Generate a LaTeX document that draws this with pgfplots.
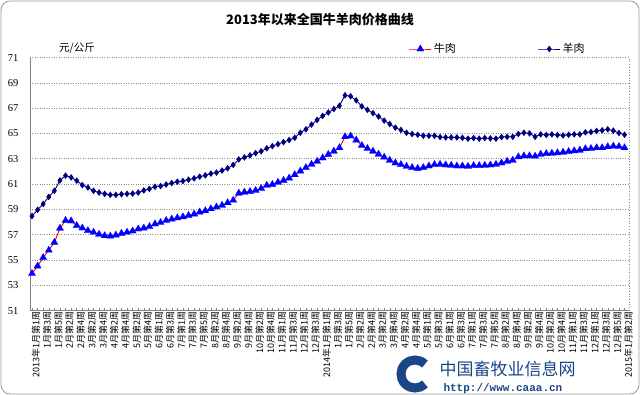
\documentclass[border=0pt]{standalone}
\usepackage{pgfplots}
\pgfplotsset{compat=1.18}
\usepackage{pgfplotstable}
\usepackage{fontspec}
\setmainfont{Liberation Serif}
\newfontfamily\cjk{Noto Sans CJK SC}
\newfontfamily\mono{Liberation Mono}
\definecolor{beefline}{RGB}{255,0,0}
\definecolor{beefmark}{RGB}{0,0,255}
\definecolor{mutton}{RGB}{0,0,128}
\definecolor{gridgray}{RGB}{140,140,140}
\definecolor{axisgray}{RGB}{128,128,128}
\definecolor{logoblue}{RGB}{25,70,135}

\pgfplotstableread{
x y
0 53.93
1 54.52
2 55.19
3 55.77
4 56.39
5 57.51
6 58.12
7 58.09
8 57.72
9 57.53
10 57.32
11 57.19
12 57.03
13 56.92
14 56.89
15 56.97
16 57.10
17 57.19
18 57.29
19 57.45
20 57.52
21 57.64
22 57.85
23 57.96
24 58.12
25 58.23
26 58.33
27 58.41
28 58.52
29 58.63
30 58.79
31 58.89
32 59.05
33 59.19
34 59.32
35 59.53
36 59.72
37 60.28
38 60.36
39 60.41
40 60.49
41 60.65
42 60.90
43 60.97
44 61.15
45 61.29
46 61.47
47 61.74
48 62.03
49 62.30
50 62.56
51 62.80
52 63.07
53 63.34
54 63.60
55 63.87
56 64.74
57 64.80
58 64.48
59 64.05
60 63.81
61 63.60
62 63.36
63 63.12
64 62.88
65 62.67
66 62.54
67 62.40
68 62.30
69 62.24
70 62.30
71 62.43
72 62.54
73 62.56
74 62.51
75 62.48
76 62.43
77 62.43
78 62.40
79 62.46
80 62.46
81 62.48
82 62.51
83 62.56
84 62.67
85 62.80
86 62.88
87 63.15
88 63.23
89 63.23
90 63.20
91 63.36
92 63.41
93 63.44
94 63.47
95 63.52
96 63.57
97 63.63
98 63.68
99 63.79
100 63.81
101 63.87
102 63.87
103 63.95
104 64.00
105 63.97
106 63.87
}\beef

\pgfplotstableread{
x y
0 58.47
1 58.97
2 59.43
3 59.99
4 60.47
5 61.29
6 61.67
7 61.53
8 61.27
9 60.92
10 60.73
11 60.47
12 60.33
13 60.23
14 60.15
15 60.15
16 60.20
17 60.23
18 60.25
19 60.33
20 60.50
21 60.62
22 60.79
23 60.84
24 60.97
25 61.08
26 61.19
27 61.24
28 61.35
29 61.45
30 61.59
31 61.69
32 61.83
33 61.91
34 62.07
35 62.25
36 62.52
37 62.95
38 63.11
39 63.27
40 63.45
41 63.59
42 63.83
43 64.00
44 64.16
45 64.32
46 64.48
47 64.66
48 65.06
49 65.33
50 65.70
51 66.07
52 66.39
53 66.66
54 66.93
55 67.19
56 68.02
57 67.94
58 67.62
59 67.14
60 66.87
61 66.61
62 66.34
63 66.02
64 65.75
65 65.46
66 65.28
67 65.06
68 64.96
69 64.90
70 64.82
71 64.82
72 64.82
73 64.72
74 64.69
75 64.69
76 64.69
77 64.66
78 64.59
79 64.64
80 64.59
81 64.64
82 64.61
83 64.59
84 64.72
85 64.74
86 64.74
87 64.96
88 65.06
89 65.01
90 64.74
91 64.93
92 64.88
93 64.93
94 64.88
95 64.85
96 64.90
97 64.93
98 64.93
99 65.09
100 65.12
101 65.20
102 65.25
103 65.33
104 65.22
105 65.04
106 64.90
}\mutton

\begin{document}
\begin{tikzpicture}[x=1pt,y=1pt]
\useasboundingbox (0,0) rectangle (640,395);
\draw[axisgray!80, line width=0.8pt, rounded corners=9pt] (1,1) rectangle (639,394);
\node[font=\cjk\bfseries\fontsize{13}{13}\selectfont] at (320,375) {2013年以来全国牛羊肉价格曲线};
\node[font=\cjk\fontsize{10.5}{10.5}\selectfont] at (77,347) {元/公斤};
\begin{axis}[
  at={(30pt,84.4pt)}, anchor=south west,
  scale only axis, width=599pt, height=253pt,
  xmin=-0.36, xmax=106.8, ymin=51, ymax=71,
  ytick={51,53,...,71},
  xtick={0,2,...,106},
  minor x tick num=1,
  xticklabels={2013年1月第1周,1月第3周,1月第5周,2月第2周,2月第4周,3月第2周,3月第4周,4月第2周,4月第4周,5月第2周,5月第4周,6月第1周,6月第3周,7月第1周,7月第3周,7月第5周,8月第2周,8月第4周,9月第2周,9月第4周,10月第2周,10月第4周,11月第1周,11月第3周,12月第1周,12月第3周,2014年1月第1周,1月第3周,1月第5周,2月第2周,2月第4周,3月第2周,3月第4周,4月第2周,4月第4周,5月第1周,5月第3周,6月第1周,6月第3周,7月第1周,7月第3周,7月第5周,8月第2周,8月第4周,9月第2周,9月第4周,10月第2周,10月第4周,11月第1周,11月第3周,12月第1周,12月第3周,12月第5周,2015年1月第2周},
  xticklabel style={rotate=90, anchor=east, font=\cjk\fontsize{9}{9}\selectfont, inner sep=1pt, yshift=-4pt},
  yticklabel style={font=\fontsize{10.5}{10.5}\selectfont, xshift=-8pt},
  /pgf/number format/assume math mode=true,
  axis x line*=bottom, axis y line*=left,
  axis line style={axisgray, line width=0.8pt, -},
  ymajorgrids, major grid style={gridgray, dotted, line width=0.7pt},
  tick align=inside,
  xtick style={axisgray, line width=0.5pt},
  minor x tick style={axisgray, line width=0.5pt},
  ytick style={draw=none},
  major tick length=3pt, minor tick length=3pt,
  legend style={at={(0.781,1.034)}, anchor=center, draw=none, fill=none,
    font=\cjk\fontsize{11}{11}\selectfont,
    /tikz/every even column/.append style={column sep=80pt}},
  legend columns=2,
  legend image code/.code={\draw[mark repeat=2,mark phase=2,#1] plot coordinates {(0pt,0pt) (11pt,0pt) (22pt,0pt)};},
  clip=false,
]
\addplot[color=beefline, line width=0.9pt, mark=triangle*, mark size=4.2pt,
  mark options={draw=beefmark, fill=beefmark, line width=0.2pt}] table {\beef};
\addplot[color=mutton, line width=0.9pt, mark=diamond*, mark size=2.6pt,
  mark options={draw=mutton, fill=mutton}] table {\mutton};
\legend{牛肉,羊肉}
\draw[gridgray, dotted, line width=0.7pt] (rel axis cs:1,0) -- (rel axis cs:1,1);
\end{axis}
\draw[logoblue, line width=9pt] ([shift={(45:14)}]415,21) arc (45:315:14);
\node[logoblue, font=\cjk\fontsize{17}{17}\selectfont, anchor=west] at (436,26) {中国畜牧业信息网};
\node[logoblue, font=\mono\bfseries\fontsize{11}{11}\selectfont, anchor=west] at (440,6) {http://www.caaa.cn};
\end{tikzpicture}
\end{document}
